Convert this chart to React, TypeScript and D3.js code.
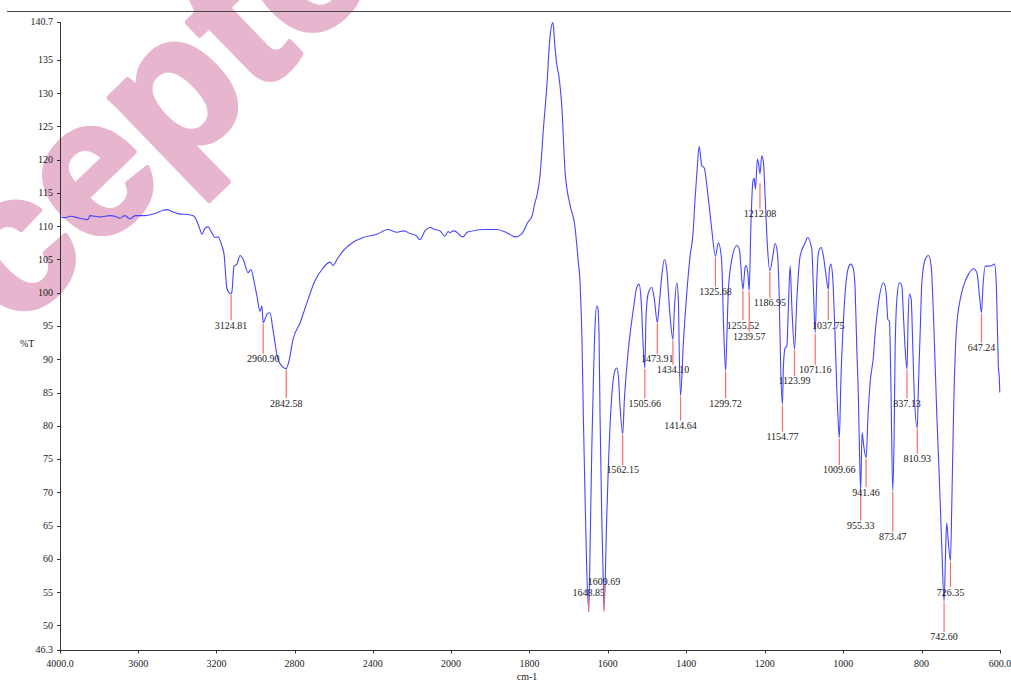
import React from "react";
import * as d3 from "d3";

// ---- spectrum (wavenumber cm-1, %T) ----
const wavenumber = [
  4000, 3974, 3949, 3898, 3857, 3847, 3795, 3744, 3719, 3693, 3668, 3642, 3616, 3565, 3514, 3473, 3453, 3427, 3396,
  3335, 3315, 3299, 3284, 3274, 3258, 3243, 3223, 3207, 3192, 3171, 3161, 3146, 3132, 3125, 3120, 3110, 3095, 3079,
  3064, 3038, 3023, 3008, 2992, 2977, 2967, 2961, 2941, 2926, 2911, 2885, 2859, 2843, 2829, 2808, 2772, 2731, 2696,
  2660, 2619, 2604, 2583, 2552, 2501, 2450, 2379, 2322, 2276, 2240, 2210, 2179, 2159, 2133, 2107, 2082, 2056, 2031,
  2015, 2005,
  1995, 1985, 1977, 1969, 1959, 1952, 1918, 1883, 1857, 1837, 1819, 1804, 1793, 1786, 1781, 1773, 1765, 1755, 1748,
  1740, 1735, 1730, 1725, 1717, 1709, 1696, 1684, 1676, 1671, 1668, 1666, 1662.5, 1658, 1654, 1648.85, 1645.4, 1641,
  1637, 1632.7, 1628.3, 1625.8, 1622.5, 1619.9, 1615.6, 1611.5, 1609.69, 1602.8, 1598.7, 1590.1, 1583.4, 1577.3,
  1573.2, 1568.9, 1562.15, 1557.9, 1547.7, 1535, 1526.3, 1520.4, 1515.3, 1509.4, 1505.66, 1502.6, 1496.7, 1488,
  1481.4, 1473.91, 1469.4, 1462.5, 1455.9, 1449.8, 1441.4, 1434.1, 1430.4, 1424.2, 1420.2, 1417.6, 1414.64, 1407.4,
  1398.7, 1390.3, 1382.7, 1377.6, 1372.4, 1367.3, 1360.5, 1354.6, 1343.6, 1335, 1325.68, 1318.1, 1310, 1305.4,
  1299.72, 1296.7, 1292.6, 1283.9, 1271.2, 1264.5, 1258.4, 1255.52, 1250, 1247.5, 1243.1, 1239.57, 1235.5, 1230.4,
  1227, 1223.7, 1218.6, 1215.5, 1212.08, 1207.4, 1203.3, 1199, 1193.1, 1186.95, 1179.3, 1173.5, 1167.6, 1163.3,
  1158.9, 1154.77, 1152.3, 1148, 1143.6, 1139.5, 1135.2, 1130.9, 1123.99, 1118.1, 1109.7, 1096.9, 1090.6, 1079.9,
  1075.8, 1071.16, 1067.1, 1063, 1056.1, 1050.3, 1043.4, 1037.75, 1035, 1031.4, 1026.3, 1020.4, 1016.1, 1012,
  1009.66, 1005.9, 1000.8, 994.9, 986.5, 980.4, 973.7, 969.4, 965.1, 961, 958.4, 955.33, 951.7, 947.5, 941.46, 936.2,
  931.1, 922.7, 918.4, 909.9, 897.2, 890.3, 886, 881.9, 878.3, 873.47, 869.9, 867.4, 863, 856.4, 850.3, 846.2, 841.8,
  837.13, 834.1, 830.9, 826.5, 822.2, 818.1, 810.93, 807.8, 803.6, 799.3, 790.8, 782.4, 775.5, 769.6, 761, 754.3,
  748.2, 742.6, 738.6, 736, 732.2, 726.35, 722.7, 718.6, 711.7, 701.5, 693.1, 680.3, 667.6, 658.9, 652.3, 647.24,
  643.4, 637.7, 629.3, 620.6, 614, 609.7, 606.3, 603.8, 602, 600.5,
];
const transmittance = [
  111.4, 111.3, 111.5, 111.2, 111.0, 111.6, 111.4, 111.6, 111.5, 111.2, 111.6, 111.1, 111.6, 111.6, 111.9, 112.4, 112.5,
  112.2, 111.9, 111.7, 111.5, 110.7, 109.5, 108.8, 109.7, 109.9, 109.0, 108.3, 108.4, 107.0, 105.8, 100.6, 99.9, 99.8,
  100.3, 104.0, 104.3, 105.6, 105.1, 103.0, 103.5, 101.8, 99.4, 97.2, 98.0, 95.5, 96.8, 97.0, 94.5, 90.0, 88.8, 88.6,
  89.7, 93.0, 95.5, 99.0, 101.8, 103.5, 104.6, 104.1, 105.0, 106.3, 107.6, 108.3, 108.8, 109.5, 109.1, 109.3, 108.9,
  108.6, 108.0, 109.3, 109.8, 109.5, 109.3, 108.5, 109.2, 109.0,
  109.3, 109.1, 108.6, 108.4, 109.1, 109.2, 109.5, 109.5, 109.0, 108.4, 108.9, 110.6, 111.6, 113.5, 114.6, 117.6, 124.1,
  131.6, 138.2, 140.6, 137.0, 134.2, 132.6, 127.6, 118.1, 113.1, 110.0, 105.0, 101.6, 97.0, 93.0, 81.4, 68.9, 58.8,
  52.3, 61.4, 76.4, 86.5, 95.0, 98.0, 97.8, 93.5, 81.4, 66.4, 56.4, 52.4, 66.4, 73.9, 84.4, 88.0, 88.7, 87.5, 82.9,
  78.8, 83.9, 91.5, 97.5, 100.8, 101.3, 99.0, 91.5, 88.7, 96.5, 100.0, 100.8, 99.0, 95.5, 98.0, 102.5, 105.0, 103.5,
  96.5, 93.0, 97.5, 101.5, 99.0, 90.0, 84.5, 92.5, 100.0, 105.5, 109.0, 114.1, 118.5, 122.0, 119.1, 118.8, 114.1,
  109.5, 105.5, 107.5, 105.0, 96.0, 88.3, 93.0, 100.5, 105.0, 107.1, 106.5, 102.0, 100.5, 103.8, 104.1, 103.0, 100.3,
  109.5, 116.6, 117.2, 115.6, 120.1, 119.4, 117.9, 120.6, 119.6, 114.6, 107.0, 103.3, 105.5, 107.4, 106.0, 100.0, 88.0,
  83.2, 89.0, 91.7, 92.0, 98.0, 104.0, 98.0, 91.5, 99.0, 105.5, 107.5, 108.3, 106.5, 100.5, 94.0, 102.0, 106.0, 106.8,
  105.5, 102.5, 100.5, 103.5, 104.3, 102.0, 93.0, 85.5, 80.0, 78.2, 86.5, 94.0, 100.0, 103.8, 104.3, 103.5, 100.5,
  91.5, 84.0, 76.4, 70.3, 79.0, 77.0, 75.2, 82.0, 86.5, 90.5, 94.0, 98.5, 101.5, 100.0, 96.0, 95.7, 86.5, 70.2, 78.9,
  91.5, 99.0, 101.5, 101.0, 96.5, 91.5, 88.5, 96.5, 99.8, 99.0, 91.5, 84.0, 79.7, 86.5, 94.0, 101.5, 105.0, 105.6,
  104.0, 96.5, 81.4, 71.4, 61.4, 53.6, 61.4, 65.4, 62.9, 59.7, 68.9, 81.4, 94.0, 99.0, 101.0, 102.8, 103.6, 103.0,
  99.5, 97.0, 101.0, 104.0, 104.0, 104.1, 104.3, 101.5, 94.0, 88.5, 87.5, 85.0,
];

// ---- labelled peaks ----
const peakWavenumbers = [
  3124.81, 2960.9, 2842.58, 1648.85, 1609.69, 1562.15, 1505.66, 1473.91, 1434.1, 1414.64, 1325.68, 1299.72, 1255.52,
  1239.57, 1212.08, 1186.95, 1154.77, 1123.99, 1071.16, 1037.75, 1009.66, 955.33, 941.46, 873.47, 837.13, 810.93,
  742.6, 726.35, 647.24,
];
const peakTransmittance = [
  99.8, 95.5, 88.6, 52.3, 52.4, 78.8, 88.7, 95.5, 93.0, 84.5, 105.5, 88.3, 100.5, 100.3, 116.6, 103.3, 83.2, 91.5, 94.0,
  100.5, 78.2, 70.3, 75.2, 70.2, 88.5, 79.7, 53.6, 59.7, 97.0,
];

// ---- axes ----
const xTickValues = [4000, 3600, 3200, 2800, 2400, 2000, 1800, 1600, 1400, 1200, 1000, 800, 600];
const xTickLabels = ["4000.0", "3600", "3200", "2800", "2400", "2000", "1800", "1600", "1400", "1200", "1000", "800", "600.0"];
const yTickValues = [140.7, 135, 130, 125, 120, 115, 110, 105, 100, 95, 90, 85, 80, 75, 70, 65, 60, 55, 50, 46.3];
const yTickLabels = ["140.7", "135", "130", "125", "120", "115", "110", "105", "100", "95", "90", "85", "80", "75", "70", "65", "60", "55", "50", "46.3"];
const xAxisTitle = "cm-1";
const yAxisTitle = "%T";
const watermarkText = "Accepted";

const FONT = "'Liberation Serif', 'Times New Roman', serif";

export default function App() {
  const W = 1011;
  const H = 680;
  const x = d3.scaleLinear().domain([4000, 2000, 600]).range([60, 451, 1000]);
  const y = d3.scaleLinear().domain([46.3, 140.7]).range([650, 22]);

  const pts = wavenumber.map((w, i) => [w, transmittance[i]] as [number, number]);
  const line = d3
    .line<[number, number]>()
    .x((d) => x(d[0]))
    .y((d) => y(d[1]))
    .curve(d3.curveMonotoneX);

  // peak labels sit on text rows
  const rowH = 11.13;
  const row0 = 325.3;
  const labelW = 33;
  const placed: { cx: number; cy: number }[] = [];
  const overlaps = (cx: number, cy: number) =>
    placed.some((p) => Math.abs(p.cx - cx) < labelW && Math.abs(p.cy - cy) < 10);
  const markers = peakWavenumbers.map((w, i) => {
    const px = x(w);
    const py = y(peakTransmittance[i]);
    let k = Math.ceil((py + 28 - row0) / rowH);
    let cy = row0 + k * rowH;
    let flipped = false;
    if (cy > 640) {
      flipped = true;
      k = Math.floor((py - 17 - row0) / rowH);
      cy = row0 + k * rowH;
      while (overlaps(px, cy)) cy -= rowH;
    } else {
      while (overlaps(px, cy)) cy += rowH;
    }
    placed.push({ cx: px, cy });
    const y1 = flipped ? cy + 3 : py + 1;
    const y2 = flipped ? py + 2 : cy - 5;
    return { px, cy, y1, y2, label: w.toFixed(2) };
  });

  const e1 = [97, 182];
  const em = 195;

  return (
    <div style={{ position: "absolute", left: 0, top: 0, width: W, height: H, background: "#fff" }}>
      <svg width={W} height={H} style={{ display: "block" }}>
        <rect x={0} y={0} width={W} height={H} fill="#ffffff" />
        {/* watermark */}
        <text
          transform={`translate(${e1[0]},${e1[1]}) rotate(-44)`}
          x={-2.112 * em}
          y={0.26 * em}
          fontFamily="'Liberation Sans', Arial, sans-serif"
          fontWeight="bold"
          fontSize={em}
          fill="#e7b5cd"
          stroke="#e7b5cd"
          strokeWidth={5}
          strokeLinejoin="round"
        >
          {watermarkText}
        </text>

        {/* top rule */}
        <line x1={7} x2={W} y1={11.5} y2={11.5} stroke="#444" strokeWidth={1} />

        {/* axes */}
        <line x1={60.5} x2={60.5} y1={y(140.7)} y2={y(46.3)} stroke="#333" strokeWidth={1} />
        <line x1={60} x2={1000} y1={650.5} y2={650.5} stroke="#333" strokeWidth={1} />
        {yTickValues.map((v, i) => (
          <g key={"yt" + i}>
            <line x1={57} x2={60} y1={Math.round(y(v)) + 0.5} y2={Math.round(y(v)) + 0.5} stroke="#333" />
            <text x={53} y={y(v) + 3.4} textAnchor="end" fontFamily={FONT} fontSize={10} fill="#222">
              {yTickLabels[i]}
            </text>
          </g>
        ))}
        {xTickValues.map((v, i) => (
          <g key={"xt" + i}>
            <line x1={Math.round(x(v)) + 0.5} x2={Math.round(x(v)) + 0.5} y1={650} y2={653.5} stroke="#333" />
            <text x={x(v)} y={667} textAnchor="middle" fontFamily={FONT} fontSize={10} fill="#222">
              {xTickLabels[i]}
            </text>
          </g>
        ))}
        <text x={527} y={680} textAnchor="middle" fontFamily={FONT} fontSize={10} fill="#222">
          {xAxisTitle}
        </text>
        <text x={20} y={347} fontFamily={FONT} fontSize={10} fill="#222">
          {yAxisTitle}
        </text>

        {/* spectrum */}
        <path d={line(pts) || ""} fill="none" stroke="#4646ff" strokeWidth={1.1} />

        {/* peak markers */}
        {markers.map((m, i) => (
          <g key={"pk" + i}>
            <line x1={m.px} x2={m.px} y1={m.y1} y2={m.y2} stroke="#ff6a6a" strokeWidth={1.2} />
            <text x={m.px} y={m.cy + 3.4} textAnchor="middle" fontFamily={FONT} fontSize={10} fill="#222">
              {m.label}
            </text>
          </g>
        ))}
      </svg>
    </div>
  );
}
